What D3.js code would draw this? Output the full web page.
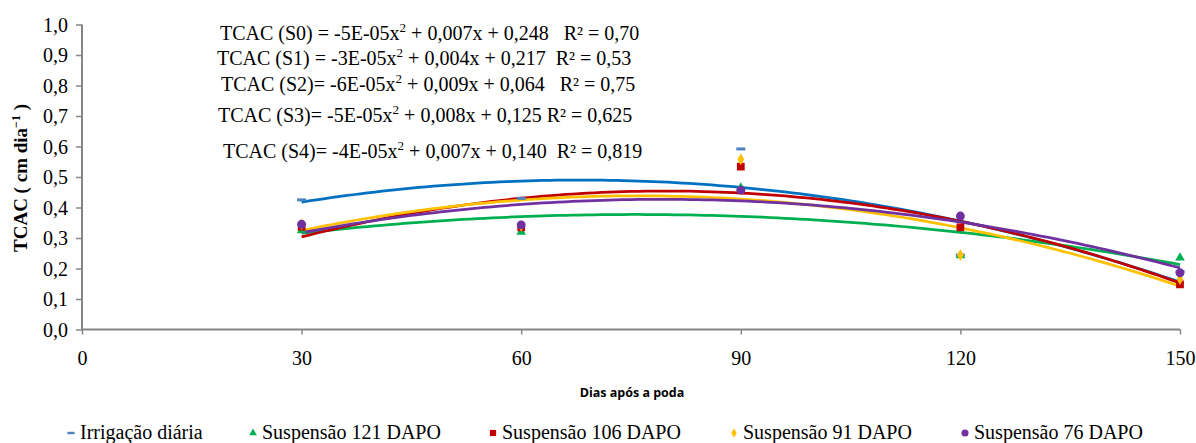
<!DOCTYPE html>
<html>
<head>
<meta charset="utf-8">
<script src="https://cdn.jsdelivr.net/npm/d3@7"></script>
<style>
  html, body { margin: 0; padding: 0; background: #fff; }
  svg { display: block; font-family: 'Liberation Serif', 'Times New Roman', serif; }
  text { white-space: pre; }
</style>
</head>
<body>
<svg id="chart" width="1196" height="443"></svg>
<script>
// Days after pruning and growth rate (TCAC, cm/day) for each treatment
const days = [30, 60, 90, 120, 150];
const irrigacaoDiaria = [0.425, 0.43, 0.592, 0.244, 0.19];
const suspensao121 = [0.325, 0.32, 0.465, 0.243, 0.235];
const suspensao106 = [0.337, 0.335, 0.534, 0.335, 0.148];
const suspensao91 = [0.345, 0.34, 0.558, 0.244, 0.165];
const suspensao76 = [0.345, 0.343, 0.457, 0.372, 0.186];

const seriesNames = ["Irrigação diária", "Suspensão 121 DAPO", "Suspensão 106 DAPO", "Suspensão 91 DAPO", "Suspensão 76 DAPO"];
const seriesValues = [irrigacaoDiaria, suspensao121, suspensao106, suspensao91, suspensao76];
const lineColors = ["#0070C0", "#00B050", "#C00000", "#FFC000", "#7030A0"];
const markerColors = ["#4F81BD", "#00B050", "#C00000", "#FFC000", "#7030A0"];
const markerShapes = ["dash", "triangle", "square", "diamond", "circle"];

const xTicks = [0, 30, 60, 90, 120, 150];
const yTicks = [0, 0.1, 0.2, 0.3, 0.4, 0.5, 0.6, 0.7, 0.8, 0.9, 1.0];

// Regression equations shown in the plot area
const eqPrefix = ["TCAC (S0) = -5E-05x", "TCAC (S1) = -3E-05x", "TCAC (S2)= -6E-05x", "TCAC (S3)= -5E-05x", "TCAC (S4)= -4E-05x"];
const eqSuffix = [" + 0,007x + 0,248   R² = 0,70", " + 0,004x + 0,217  R² = 0,53", " + 0,009x + 0,064   R² = 0,75", " + 0,008x + 0,125 R² = 0,625", " + 0,007x + 0,140  R² = 0,819"];

const serif = "'Liberation Serif', 'Times New Roman', serif";
const svg = d3.select("#chart");
const x = d3.scaleLinear().domain([0, 150]).range([82, 1180]);
const y = d3.scaleLinear().domain([0, 1]).range([329.5, 24.5]);
const axisColor = "#868686";
const fmt = v => d3.format(".1f")(v).replace(".", ",");

// Y axis
const yAxis = svg.append("g").attr("transform", `translate(${x(0)},0)`)
  .call(d3.axisLeft(y).tickValues(yTicks).tickSize(6).tickPadding(8).tickFormat(fmt));
// X axis
const xAxis = svg.append("g").attr("transform", `translate(0,${y(0)})`)
  .call(d3.axisBottom(x).tickValues(xTicks).tickSize(5).tickPadding(16).tickFormat(d3.format("d")));
[yAxis, xAxis].forEach(g => {
  g.attr("font-family", serif).attr("font-size", 20);
  g.select(".domain").attr("stroke", axisColor).attr("stroke-width", 2);
  g.selectAll(".tick line").attr("stroke", axisColor).attr("stroke-width", 1.5);
  g.selectAll(".tick text").attr("fill", "#000")
    .attr("font-family", serif).style("font-family", serif).style("font-size", "20px");
});
yAxis.selectAll(".tick text").attr("dy", "0.33em");
yAxis.select(".domain").attr("d", `M-0,${y(1)}V${y(0)}`);
xAxis.select(".domain").attr("d", `M${x(0)},0H${x(150)}`);

// Axis titles
const yTitle = svg.append("text")
  .attr("transform", `translate(27,${y(0.5) + 1}) rotate(-90)`)
  .attr("text-anchor", "middle")
  .attr("font-family", serif).style("font-family", serif)
  .style("font-size", "19px").style("font-weight", "bold");
yTitle.append("tspan").text("TCAC ( cm dia");
yTitle.append("tspan").attr("dy", "-7").style("font-size", "12px").text("−1");
yTitle.append("tspan").attr("dy", "7").text(" )");

svg.append("text")
  .attr("x", 632).attr("y", 397)
  .attr("text-anchor", "middle")
  .style("font-family", "'Open Sans', 'Noto Sans', sans-serif")
  .style("font-size", "12.5px").style("font-weight", "bold")
  .text("Dias após a poda");

// Least-squares quadratic fit, y = a + b x + c x^2
function quadFit(xs, ys) {
  const n = xs.length;
  let s = [0, 0, 0, 0, 0], t = [0, 0, 0];
  for (let i = 0; i < n; i++) {
    let p = 1;
    for (let k = 0; k < 5; k++) { s[k] += p; if (k < 3) t[k] += p * ys[i]; p *= xs[i]; }
  }
  const M = [[s[0], s[1], s[2], t[0]], [s[1], s[2], s[3], t[1]], [s[2], s[3], s[4], t[2]]];
  for (let i = 0; i < 3; i++) {
    for (let j = i + 1; j < 3; j++) {
      const f = M[j][i] / M[i][i];
      for (let k = i; k < 4; k++) M[j][k] -= f * M[i][k];
    }
  }
  const c = [0, 0, 0];
  for (let i = 2; i >= 0; i--) {
    let v = M[i][3];
    for (let k = i + 1; k < 3; k++) v -= M[i][k] * c[k];
    c[i] = v / M[i][i];
  }
  return v => c[0] + c[1] * v + c[2] * v * v;
}

// Trendlines
const line = d3.line().x(d => x(d[0])).y(d => y(d[1]));
const xs = d3.range(days[0], days[days.length - 1] + 0.5, 1);
seriesValues.forEach((vals, i) => {
  const f = quadFit(days, vals);
  svg.append("path")
    .attr("d", line(xs.map(v => [v, f(v)])))
    .attr("fill", "none").attr("stroke", lineColors[i]).attr("stroke-width", 2.75);
});

// Markers
function drawMarker(g, shape, color, cx, cy, scale) {
  if (shape === "dash") {
    g.append("rect").attr("x", cx - 4.5 * scale).attr("y", cy - 1.5 * scale)
      .attr("width", 9 * scale).attr("height", 3 * scale).attr("fill", color);
    return;
  }
  const sym = { triangle: d3.symbolTriangle, square: d3.symbolSquare, diamond: d3.symbolDiamond, circle: d3.symbolCircle }[shape];
  const size = { triangle: 40, square: 60, diamond: 40, circle: 62 }[shape] * scale * scale;
  g.append("path").attr("d", d3.symbol().type(sym).size(size)())
    .attr("transform", `translate(${cx},${cy})`).attr("fill", color);
}
const markers = svg.append("g");
seriesValues.forEach((vals, i) => {
  vals.forEach((v, j) => drawMarker(markers, markerShapes[i], markerColors[i], x(days[j]), y(v), 1));
});

// Equations
const eqX = [220, 217, 221, 218, 223];
const eqY = [40, 65, 91, 122, 158];
eqPrefix.forEach((p, i) => {
  const t = svg.append("text").attr("x", eqX[i]).attr("y", eqY[i])
    .attr("font-family", serif).style("font-family", serif).style("font-size", "20px");
  t.append("tspan").text(p);
  t.append("tspan").attr("dy", "-8").style("font-size", "13px").text("2");
  t.append("tspan").attr("dy", "8").text(eqSuffix[i]);
});

// Legend
const legendMarkerX = [71, 253, 493, 734, 965];
const legend = svg.append("g");
seriesNames.forEach((name, i) => {
  drawMarker(legend, markerShapes[i], markerColors[i], legendMarkerX[i], 433, 0.8);
  legend.append("text").attr("x", legendMarkerX[i] + 9).attr("y", 439)
    .attr("font-family", serif).style("font-family", serif).style("font-size", "20px")
    .text(name);
});
</script>
</body>
</html>
